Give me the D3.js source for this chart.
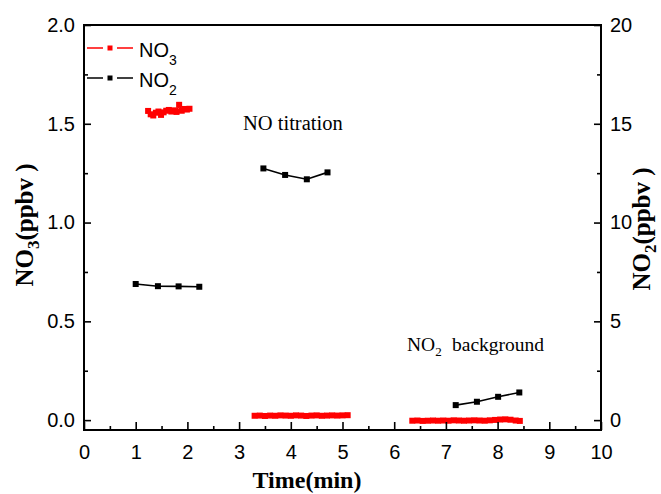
<!DOCTYPE html>
<html>
<head>
<meta charset="utf-8">
<script src="https://cdn.jsdelivr.net/npm/d3@7"></script>
<style>
  html, body { margin: 0; padding: 0; background: #fff; }
  svg { display: block; }
</style>
</head>
<body>
<svg id="chart" width="661" height="494"></svg>
<script>
// NO3 runs (left axis, ppbv): three measurement periods
const no3Run1Time = [1.24, 1.29, 1.34, 1.39, 1.44, 1.49, 1.54, 1.59, 1.64, 1.69, 1.74, 1.79, 1.84, 1.89, 1.94, 1.99, 2.04];
const no3Run1 = [1.565, 1.548, 1.542, 1.556, 1.562, 1.545, 1.558, 1.566, 1.570, 1.562, 1.568, 1.560, 1.596, 1.566, 1.575, 1.572, 1.576];

const no3Run2Time = [3.3, 3.4, 3.5, 3.6, 3.7, 3.8, 3.9, 4.0, 4.1, 4.2, 4.3, 4.4, 4.5, 4.6, 4.7, 4.8, 4.9, 5.0, 5.1];
const no3Run2 = [0.022, 0.023, 0.021, 0.023, 0.022, 0.024, 0.023, 0.022, 0.024, 0.023, 0.021, 0.023, 0.024, 0.022, 0.023, 0.024, 0.023, 0.024, 0.025];

const no3Run3Time = [6.35, 6.45, 6.55, 6.65, 6.75, 6.85, 6.95, 7.05, 7.15, 7.25, 7.35, 7.45, 7.55, 7.65, 7.75, 7.85, 7.95, 8.05, 8.15, 8.25, 8.35, 8.43];
const no3Run3 = [-0.003, -0.002, -0.004, -0.003, -0.002, -0.003, -0.002, -0.003, -0.001, -0.002, -0.003, -0.002, -0.001, -0.002, -0.003, -0.001, 0.001, 0.003, 0.004, 0.002, -0.002, -0.004];

// NO2 runs (right axis, ppbv)
const no2Run1Time = [1.0, 1.43, 1.83, 2.23];
const no2Run1 = [6.89, 6.78, 6.77, 6.75];
const no2Run2Time = [3.47, 3.89, 4.31, 4.71];
const no2Run2 = [12.74, 12.41, 12.19, 12.54];
const no2Run3Time = [7.19, 7.60, 8.01, 8.42];
const no2Run3 = [0.76, 0.93, 1.18, 1.40];

// Axis ticks
const timeTicks = [0, 1, 2, 3, 4, 5, 6, 7, 8, 9, 10];
const timeMinorTicks = [0.5, 1.5, 2.5, 3.5, 4.5, 5.5, 6.5, 7.5, 8.5, 9.5];
const no3Ticks = [0.0, 0.5, 1.0, 1.5, 2.0];
const no3MinorTicks = [0.25, 0.75, 1.25, 1.75];
const no2Ticks = [0, 5, 10, 15, 20];
const no2MinorTicks = [2.5, 7.5, 12.5, 17.5];

const RED = "#ff0000";
const BLACK = "#000000";
const SANS = "'Liberation Sans', Arial, sans-serif";
const SERIF = "'Liberation Serif', 'Times New Roman', serif";

const svg = d3.select("#chart");
const plotLeft = 84, plotRight = 601, plotTop = 25, plotBottom = 430;

const x = d3.scaleLinear().domain([0, 10]).range([plotLeft, plotRight]);
const yL = d3.scaleLinear().domain([-0.05, 2.0]).range([plotBottom, plotTop]);
const yR = d3.scaleLinear().domain([-0.5, 20]).range([plotBottom, plotTop]);

// ---- data series ----
function drawRun(times, values, yScale, color, size) {
  const pts = times.map((t, i) => [t, values[i]]);
  const line = d3.line().x(d => x(d[0])).y(d => yScale(d[1]));
  svg.append("path")
    .attr("d", line(pts))
    .attr("fill", "none")
    .attr("stroke", color)
    .attr("stroke-width", 1.6);
  svg.append("g").selectAll("rect").data(pts).join("rect")
    .attr("x", d => x(d[0]) - size / 2)
    .attr("y", d => yScale(d[1]) - size / 2)
    .attr("width", size)
    .attr("height", size)
    .attr("fill", color);
}

drawRun(no3Run1Time, no3Run1, yL, RED, 6);
drawRun(no3Run2Time, no3Run2, yL, RED, 6);
drawRun(no3Run3Time, no3Run3, yL, RED, 6);
drawRun(no2Run1Time, no2Run1, yR, BLACK, 6);
drawRun(no2Run2Time, no2Run2, yR, BLACK, 6);
drawRun(no2Run3Time, no2Run3, yR, BLACK, 6);

// ---- axes ----
function styleAxis(g) {
  g.select(".domain").remove();
  g.selectAll(".tick line").attr("stroke", BLACK).attr("stroke-width", 1.6);
  g.selectAll("text").attr("font-family", SANS).attr("font-size", 20).attr("fill", BLACK);
}

// bottom
svg.append("g").attr("transform", `translate(0,${plotBottom})`)
  .call(d3.axisBottom(x).tickValues(timeTicks).tickSize(-8).tickPadding(15).tickFormat(d3.format("d")))
  .call(styleAxis);
svg.append("g").attr("transform", `translate(0,${plotBottom})`)
  .call(d3.axisBottom(x).tickValues(timeMinorTicks).tickSize(-4).tickFormat(""))
  .call(styleAxis);

// left
svg.append("g").attr("transform", `translate(${plotLeft},0)`)
  .call(d3.axisLeft(yL).tickValues(no3Ticks).tickSize(-7).tickPadding(9).tickFormat(d3.format(".1f")))
  .call(styleAxis);
svg.append("g").attr("transform", `translate(${plotLeft},0)`)
  .call(d3.axisLeft(yL).tickValues(no3MinorTicks).tickSize(-4).tickFormat(""))
  .call(styleAxis);

// right
svg.append("g").attr("transform", `translate(${plotRight},0)`)
  .call(d3.axisRight(yR).tickValues(no2Ticks).tickSize(-7).tickPadding(9).tickFormat(d3.format("d")))
  .call(styleAxis);
svg.append("g").attr("transform", `translate(${plotRight},0)`)
  .call(d3.axisRight(yR).tickValues(no2MinorTicks).tickSize(-4).tickFormat(""))
  .call(styleAxis);

// frame
svg.append("rect")
  .attr("x", plotLeft).attr("y", plotTop)
  .attr("width", plotRight - plotLeft).attr("height", plotBottom - plotTop)
  .attr("fill", "none").attr("stroke", BLACK).attr("stroke-width", 2);

// ---- axis titles ----
svg.append("text")
  .attr("x", 307).attr("y", 488)
  .attr("text-anchor", "middle")
  .attr("font-family", SERIF).attr("font-weight", "bold").attr("font-size", 24)
  .text("Time(min)");

function yTitle(xPos, yCenter, sub) {
  const t = svg.append("text")
    .attr("transform", `translate(${xPos},${yCenter}) rotate(-90)`)
    .attr("text-anchor", "middle")
    .attr("font-family", SERIF).attr("font-weight", "bold").attr("font-size", 25);
  t.append("tspan").text("NO");
  t.append("tspan").attr("font-size", 17).attr("dy", 6).text(sub);
  t.append("tspan").attr("dy", -6).text("(ppbv\u00a0)");
}
yTitle(33, 225, "3");
yTitle(650, 229, "2");

// ---- annotations ----
svg.append("text")
  .attr("x", 243).attr("y", 130)
  .attr("font-family", SERIF).attr("font-size", 20.5)
  .text("NO titration");

const bg = svg.append("text")
  .attr("x", 407).attr("y", 351)
  .attr("font-family", SERIF).attr("font-size", 19.5);
bg.append("tspan").text("NO");
bg.append("tspan").attr("font-size", 13).attr("dy", 5).text("2");
bg.append("tspan").attr("x", 452).attr("dy", -5).text("background");

// ---- legend ----
function legendItem(yPos, color, label, sub) {
  const g = svg.append("g");
  g.append("line").attr("x1", 87).attr("x2", 103).attr("y1", yPos).attr("y2", yPos)
    .attr("stroke", color).attr("stroke-width", 1.5);
  g.append("line").attr("x1", 117).attr("x2", 133).attr("y1", yPos).attr("y2", yPos)
    .attr("stroke", color).attr("stroke-width", 1.5);
  g.append("rect").attr("x", 107.5).attr("y", yPos - 2.5).attr("width", 5).attr("height", 5)
    .attr("fill", color);
  const t = g.append("text").attr("x", 139).attr("y", yPos + 9)
    .attr("font-family", SANS).attr("font-size", 20).attr("fill", BLACK);
  t.append("tspan").text(label);
  t.append("tspan").attr("font-size", 14).attr("dy", 8).text(sub);
}
legendItem(48, RED, "NO", "3");
legendItem(78, BLACK, "NO", "2");
</script>
</body>
</html>
